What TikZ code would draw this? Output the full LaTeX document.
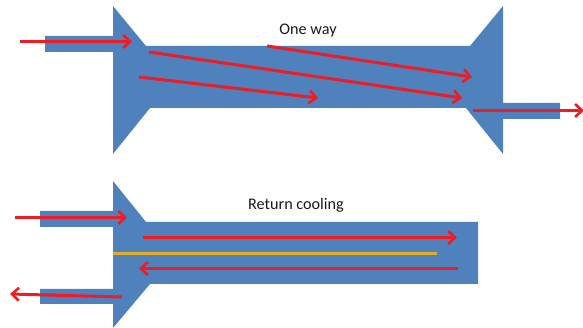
\documentclass[tikz,border=0pt]{standalone}
\usepackage{fontspec}
\setmainfont{Carlito}
\usetikzlibrary{arrows.meta}
\definecolor{chan}{HTML}{4F81BD}
\definecolor{flow}{HTML}{EE1C25}
\definecolor{divider}{HTML}{E0AC2B}
\tikzset{
  x=1pt,y=-1pt,
  channel/.style={fill=chan,draw=none},
  flowline/.style={draw=flow,line width=3pt,-{Straight Barb[length=7pt,width=13pt,line width=2.6pt]}},
  dividerline/.style={draw=divider,line width=2.2pt},
  caption/.style={font=\fontsize{16.2}{18}\selectfont,text=black!90,inner sep=0pt}
}
\begin{document}
\begin{tikzpicture}
\useasboundingbox (0,0) rectangle (583,328);
\fill[channel] (45,36) -- (113,36) -- (113,6) -- (146,46) -- (470,46) -- (503,6) -- (503,103) -- (560,103) -- (560,119) -- (503,119) -- (503,154) -- (466,108) -- (150,108) -- (113,154) -- (113,52) -- (45,52) -- cycle;
\fill[channel] (40,211) -- (113,211) -- (113,181) -- (146,222) -- (478,222) -- (478,284) -- (150,284) -- (113,328) -- (113,304) -- (40,304) -- (40,289) -- (113,289) -- (113,227) -- (40,227) -- cycle;
\node[caption] (oneway) at (308,31) {One way};
\node[caption] (returncooling) at (296,205) {Return cooling};
\coordinate (a1) at (20,41.5); \coordinate (a2) at (132,41.5);
\coordinate (b1) at (149,52); \coordinate (b2) at (462,98);
\coordinate (c1) at (139,77); \coordinate (c2) at (318,98);
\coordinate (d1) at (267,46); \coordinate (d2) at (472,77);
\coordinate (e1) at (473,110.5); \coordinate (e2) at (584,110.5);
\coordinate (f1) at (15,217.5); \coordinate (f2) at (127,217.5);
\coordinate (g1) at (143,237.5); \coordinate (g2) at (457,237.5);
\coordinate (h1) at (458,268.5); \coordinate (h2) at (139,268.5);
\coordinate (i1) at (122,297); \coordinate (i2) at (10,294);
\coordinate (y1) at (113,253.5); \coordinate (y2) at (437,253.5);
\draw[dividerline] (y1) -- (y2);
\foreach \p/\q in {a1/a2,b1/b2,c1/c2,d1/d2,e1/e2,f1/f2,g1/g2,h1/h2,i1/i2}
  \draw[flowline] (\p) -- (\q);
\end{tikzpicture}
\end{document}
